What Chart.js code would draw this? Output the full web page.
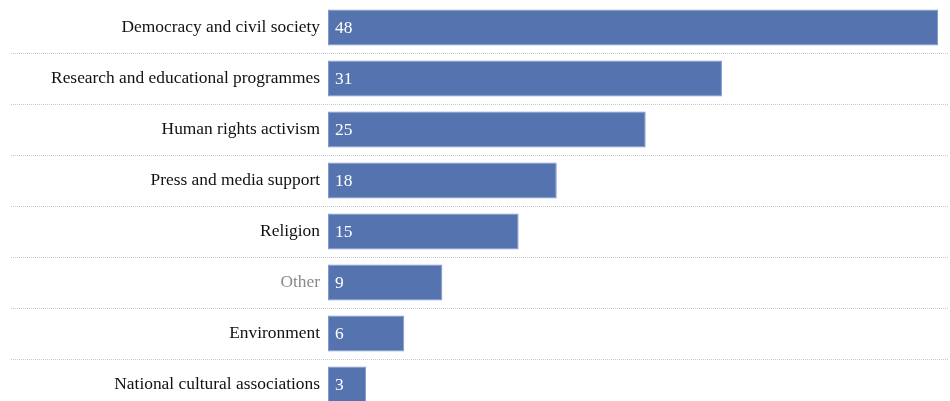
<!DOCTYPE html>
<html>
<head>
<meta charset="utf-8">
<script src="https://cdn.jsdelivr.net/npm/chart.js@4/dist/chart.umd.min.js"></script>
<style>
  html, body { margin: 0; padding: 0; background: #fff; overflow: hidden; }
  canvas { display: block; }
</style>
</head>
<body>
<canvas id="c" width="950" height="410"></canvas>
<script>
const categories = [
  'Democracy and civil society',
  'Research and educational programmes',
  'Human rights activism',
  'Press and media support',
  'Religion',
  'Other',
  'Environment',
  'National cultural associations'
];
const counts = [48, 31, 25, 18, 15, 9, 6, 3];
const mutedCategories = ['Other'];

const FONT = '"Liberation Serif", "Times New Roman", serif';

// Dotted separators between rows, running across label column and plot
const rowSeparators = {
  id: 'rowSeparators',
  beforeDatasetsDraw(chart) {
    const { ctx } = chart;
    const y = chart.scales.y;
    ctx.save();
    ctx.strokeStyle = '#c8c8c8';
    ctx.lineWidth = 1;
    ctx.setLineDash([1, 1]);
    for (let i = 0; i < categories.length - 1; i++) {
      const py = Math.round((y.getPixelForValue(i) + y.getPixelForValue(i + 1)) / 2) + 0.5;
      ctx.beginPath();
      ctx.moveTo(11, py);
      ctx.lineTo(948, py);
      ctx.stroke();
    }
    ctx.restore();
  }
};

// Value printed in white at the start of each bar
const valueLabels = {
  id: 'valueLabels',
  afterDatasetsDraw(chart) {
    const { ctx } = chart;
    const meta = chart.getDatasetMeta(0);
    ctx.save();
    ctx.fillStyle = '#ffffff';
    ctx.font = '17.4px ' + FONT;
    ctx.textAlign = 'left';
    ctx.textBaseline = 'middle';
    meta.data.forEach((bar, i) => {
      ctx.fillText(String(counts[i]), bar.base + 7, bar.y + 1);
    });
    ctx.restore();
  }
};

new Chart(document.getElementById('c'), {
  type: 'bar',
  data: {
    labels: categories,
    datasets: [{
      data: counts,
      backgroundColor: '#5473af',
      borderColor: '#7f9ad0',
      borderWidth: 1,
      borderSkipped: false,
      categoryPercentage: 1,
      barPercentage: 0.706
    }]
  },
  options: {
    indexAxis: 'y',
    responsive: false,
    animation: false,
    layout: { padding: { top: 2, right: 12, bottom: 0, left: 0 } },
    plugins: {
      legend: { display: false },
      tooltip: { enabled: false }
    },
    scales: {
      x: {
        display: false,
        min: 0,
        max: 48
      },
      y: {
        afterFit(scale) {
          scale.width = 328;
          scale.paddingTop = 0;
          scale.paddingBottom = 0;
        },
        grid: { display: false, drawTicks: false },
        border: { display: false },
        ticks: {
          padding: 8,
          font: { family: FONT, size: 17.4 },
          color: (c) => mutedCategories.includes(categories[c.index]) ? '#8a8a8a' : '#111111'
        }
      }
    }
  },
  plugins: [rowSeparators, valueLabels]
});
</script>
</body>
</html>
